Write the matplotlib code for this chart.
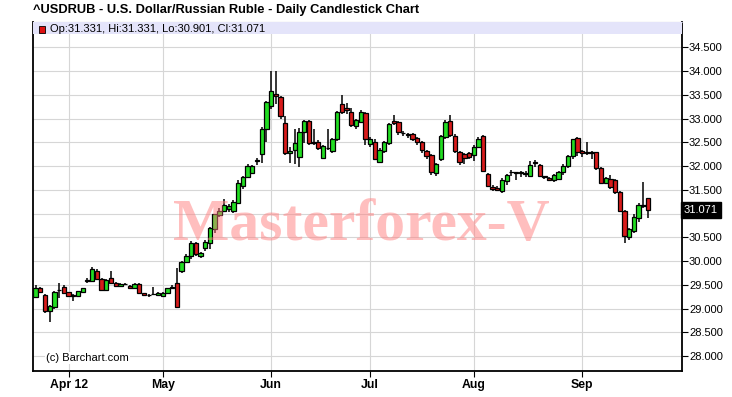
import numpy as np
import matplotlib.pyplot as plt
from matplotlib.patches import Rectangle

# daily OHLC, USD/RUB, 22 Mar 2012 .. 20 Sep 2012 (Good Friday skipped)
opens = [29.25, 29.43, 29.29, 28.95, 29.04, 29.38, 29.46, 29.34, 29.27, 29.26,
         29.34, 29.59, 29.59, 29.80, 29.62, 29.40, 29.64, 29.54, 29.48, 29.52,
         29.48, 29.43, 29.52, 29.32, 29.29, 29.30, 29.29, 29.27, 29.32, 29.44,
         29.54, 29.78, 29.97, 30.11, 30.37, 30.11, 30.27, 30.37, 30.67, 30.97,
         31.06, 31.10, 31.06, 31.23, 31.58, 31.78, 31.86, 32.11, 32.25, 32.79,
         33.26, 33.52, 33.45, 32.90, 32.28, 32.34, 32.20, 32.72, 32.95, 32.51,
         32.51, 32.18, 32.39, 32.32, 32.56, 33.30, 33.22, 33.14, 32.84, 32.93,
         33.11, 32.46, 32.51, 32.09, 32.32, 32.49, 32.95, 32.92, 32.70, 32.67,
         32.67, 32.60, 32.50, 32.32, 32.23, 31.85, 32.14, 32.62, 32.95, 32.64,
         32.29, 32.25, 32.27, 32.23, 32.41, 32.63, 31.83, 31.55, 31.53, 31.48,
         31.68, 31.87, 31.85, 31.86, 31.84, 31.79, 32.08, 32.02, 31.78, 31.74,
         31.71, 31.72, 31.88, 32.00, 32.21, 32.60, 32.32, 32.27, 32.29, 32.29,
         31.95, 31.65, 31.72, 31.71, 31.46, 31.05, 30.50, 30.64, 30.90, 31.18,
         31.331]
highs = [29.49, 29.45, 29.30, 29.07, 29.37, 29.53, 29.50, 29.35, 29.30, 29.37,
         29.44, 29.64, 29.88, 29.83, 29.64, 29.62, 29.78, 29.55, 29.53, 29.53,
         29.50, 29.54, 29.53, 29.33, 29.31, 29.46, 29.34, 29.34, 29.44, 29.50,
         29.85, 30.00, 30.14, 30.42, 30.40, 30.20, 30.45, 30.72, 31.00, 31.12,
         31.30, 31.20, 31.28, 31.70, 31.80, 32.05, 32.02, 32.18, 32.82, 33.38,
         34.00, 34.00, 33.47, 33.05, 32.40, 32.79, 32.80, 32.98, 32.97, 32.79,
         32.55, 32.45, 32.79, 32.60, 33.16, 33.50, 33.32, 33.22, 33.00, 33.17,
         33.14, 32.62, 32.56, 32.38, 32.52, 32.90, 33.07, 32.95, 32.74, 32.70,
         32.70, 32.62, 32.52, 32.34, 32.25, 32.07, 32.66, 32.97, 33.07, 32.67,
         32.32, 32.28, 32.30, 32.45, 32.62, 32.65, 31.86, 31.60, 31.58, 31.74,
         31.84, 31.92, 31.87, 31.90, 31.90, 32.10, 32.12, 32.04, 31.80, 31.78,
         31.84, 31.90, 32.05, 32.24, 32.58, 32.62, 32.34, 32.51, 32.31, 32.30,
         31.97, 31.76, 31.82, 31.73, 31.48, 31.07, 30.70, 31.00, 31.22, 31.67,
         31.331]
lows = [29.22, 29.32, 28.90, 28.72, 29.00, 29.22, 29.30, 29.24, 29.15, 29.25,
        29.32, 29.53, 29.57, 29.60, 29.38, 29.38, 29.51, 29.45, 29.46, 29.49,
        29.41, 29.41, 29.30, 29.27, 29.25, 29.28, 29.27, 29.25, 29.30, 29.42,
        29.02, 29.75, 29.95, 30.05, 30.10, 30.06, 30.22, 30.25, 30.60, 30.92,
        31.03, 31.04, 31.02, 31.20, 31.52, 31.75, 31.84, 32.02, 32.06, 32.51,
        33.20, 33.30, 33.00, 32.24, 32.06, 32.05, 31.97, 32.48, 32.45, 32.44,
        32.33, 32.15, 32.33, 32.28, 32.52, 33.10, 33.10, 32.82, 32.78, 32.90,
        32.44, 32.40, 32.12, 32.06, 32.28, 32.45, 32.86, 32.66, 32.64, 32.60,
        32.52, 32.45, 32.28, 32.15, 31.82, 31.80, 32.10, 32.58, 32.62, 32.28,
        32.02, 32.05, 32.15, 32.10, 32.38, 31.88, 31.55, 31.48, 31.47, 31.44,
        31.60, 31.80, 31.70, 31.76, 31.78, 31.77, 31.98, 31.77, 31.72, 31.68,
        31.67, 31.70, 31.82, 31.96, 32.15, 32.22, 32.20, 32.24, 32.14, 31.92,
        31.62, 31.62, 31.52, 31.42, 31.04, 30.37, 30.45, 30.58, 30.82, 31.12,
        30.901]
closes = [29.43, 29.34, 28.95, 29.05, 29.34, 29.39, 29.33, 29.26, 29.26, 29.36,
          29.43, 29.59, 29.83, 29.62, 29.40, 29.60, 29.53, 29.48, 29.51, 29.51,
          29.43, 29.52, 29.32, 29.29, 29.28, 29.30, 29.32, 29.32, 29.43, 29.45,
          29.03, 29.97, 30.11, 30.37, 30.14, 30.16, 30.41, 30.69, 30.99, 31.06,
          31.18, 31.15, 31.25, 31.64, 31.76, 32.00, 32.00, 32.12, 32.79, 33.35,
          33.59, 33.48, 33.05, 32.27, 32.31, 32.49, 32.72, 32.94, 32.49, 32.48,
          32.39, 32.42, 32.37, 32.56, 33.14, 33.14, 33.19, 32.86, 32.96, 33.13,
          32.58, 32.56, 32.14, 32.34, 32.50, 32.88, 32.90, 32.71, 32.69, 32.66,
          32.56, 32.51, 32.34, 32.22, 31.88, 32.04, 32.64, 32.92, 32.65, 32.32,
          32.09, 32.16, 32.20, 32.41, 32.58, 31.90, 31.58, 31.51, 31.50, 31.71,
          31.81, 31.88, 31.85, 31.87, 31.85, 32.02, 32.06, 31.79, 31.77, 31.71,
          31.81, 31.88, 32.00, 32.21, 32.56, 32.30, 32.28, 32.29, 32.28, 31.95,
          31.64, 31.74, 31.55, 31.46, 31.06, 30.53, 30.67, 30.93, 31.18, 31.15,
          31.071]

month_labels = ["Apr 12", "May", "Jun", "Jul", "Aug", "Sep"]
month_pos = [7, 27, 50, 71, 93, 116]
price_ticks = [28.0, 28.5, 29.0, 29.5, 30.0, 30.5, 31.0, 31.5, 32.0, 32.5,
               33.0, 33.5, 34.0, 34.5]

o = np.array(opens)
h = np.array(highs)
l = np.array(lows)
c = np.array(closes)
x = np.arange(len(c))

up_col = "#22DD22"
dn_col = "#D81B1B"
cols = [up_col if cc >= oo else dn_col for oo, cc in zip(o, c)]

fig = plt.figure(figsize=(7.32, 3.97), dpi=100)
ax = fig.add_axes([32.5 / 732, 1 - 371 / 397, 649.5 / 732, 349 / 397])

ax.set_xlim(-0.66, 137.2)
ax.set_ylim(27.685, 35.033)

# grid
for p in price_ticks:
    ax.axhline(p, color="#D6D6D6", lw=0.8, zorder=0)
for m in month_pos:
    ax.axvline(m, color="#D6D6D6", lw=0.8, zorder=0)

# candles
ax.vlines(x, l, h, color="black", lw=1.1, zorder=2)
bottoms = np.minimum(o, c)
heights = np.maximum(np.abs(c - o), 0.015)
ax.bar(x, heights, bottom=bottoms, width=0.92, color=cols,
       edgecolor="black", linewidth=0.9, zorder=3)

# legend band on top
ax.add_patch(Rectangle((0, 0.9656), 1, 0.0344, transform=ax.transAxes,
                       facecolor="#E4E4FA", edgecolor="none", zorder=4))
fig.patches.append(Rectangle((39 / 732, 1 - 32.5 / 397), 6 / 732, 7 / 397,
                             transform=fig.transFigure, facecolor="#DD1111",
                             edgecolor="black", lw=0.6))
fig.text(50 / 732, 1 - 28.5 / 397,
         "Op:%.3f, Hi:%.3f, Lo:%.3f, Cl:%.3f" % (o[-1], h[-1], l[-1], c[-1]),
         fontsize=8, family="Liberation Sans", va="center", ha="left")

fig.text(33 / 732, 1 - 10 / 397,
         "^USDRUB - U.S. Dollar/Russian Ruble - Daily Candlestick Chart",
         fontsize=9.3, fontweight="bold", family="Liberation Sans",
         va="center", ha="left")

# axes styling
for s in ["left", "bottom", "right"]:
    ax.spines[s].set_color("black")
    ax.spines[s].set_linewidth(1.3)
ax.spines["top"].set_color("#9A9AB0")
ax.spines["top"].set_linewidth(0.8)

# the last-price box sits where the nearest price label would be
last = c[-1]
ylabels = ["" if abs(p - last) < 0.2 else "%.3f" % p for p in price_ticks]

ax.yaxis.tick_right()
ax.set_yticks(price_ticks)
ax.set_yticklabels(ylabels, family="Liberation Sans", fontsize=8)
ax.tick_params(axis="y", direction="out", length=4, width=0.8, pad=1)
ax.set_xticks(month_pos)
ax.set_xticklabels(month_labels, family="Liberation Sans", fontsize=8.8,
                   fontweight="bold")
ax.tick_params(axis="x", direction="out", length=4, width=0.8, pad=1.5)

# last price box
ax.text(1.003, last, "%.3f" % last, transform=ax.get_yaxis_transform(),
        color="white", fontsize=8, family="Liberation Sans", va="center",
        ha="left", zorder=10, clip_on=False,
        bbox=dict(boxstyle="square,pad=0.25", facecolor="black",
                  edgecolor="black"))

ax.text(46 / 732, 1 - 357.7 / 397, "(c) Barchart.com", transform=fig.transFigure,
        fontsize=8, family="Liberation Sans", va="center", ha="left", zorder=5,
        bbox=dict(boxstyle="square,pad=0.1", facecolor="white", edgecolor="none"))

# watermark
fig.text(361 / 732, 1 - 226 / 397, "Masterforex-V", fontsize=43,
         fontweight="bold", family="Liberation Serif", color="#FF7F7F",
         alpha=0.5, ha="center", va="center", zorder=20)

fig.savefig("out.png", dpi=100)
